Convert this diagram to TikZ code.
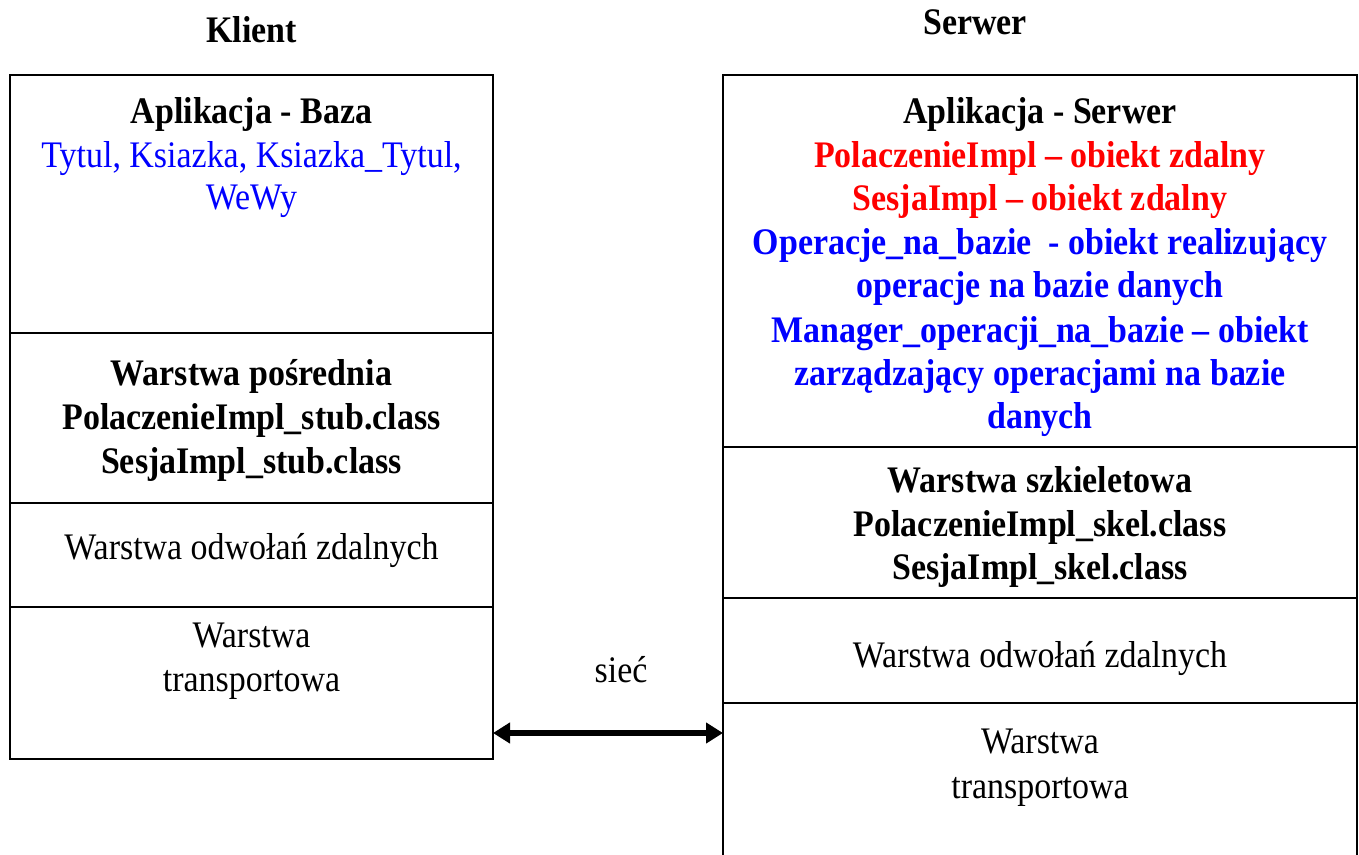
\documentclass[tikz,border=0pt]{standalone}
\usepackage{fontspec}
\setmainfont{Liberation Serif}[FakeStretch=0.905]
\usetikzlibrary{arrows.meta}
\definecolor{rred}{RGB}{255,0,0}
\definecolor{bblue}{RGB}{0,0,255}
\begin{document}
\begin{tikzpicture}[x=1pt,y=-1pt,
  layer/.style={draw, line width=2.2pt, inner sep=0pt, outer sep=0pt, anchor=north west},
  txt/.style={anchor=base, inner sep=0pt, font=\fontsize{37.5}{43}\selectfont},
  btxt/.style={anchor=base, inner sep=0pt, font=\fontsize{37.5}{43}\selectfont\bfseries},
  net/.style={line width=5.5pt, {Triangle[length=17pt,width=20pt]}-{Triangle[length=17pt,width=20pt]}}]
\useasboundingbox (0,0) rectangle (1359,854);
\clip (0,0) rectangle (1359,854);
% headings
\node[btxt] (hk) at (251.5,42) {Klient};
\node[btxt] (hs) at (975,34) {Serwer};
% client stack
\node[layer, minimum width=483pt, minimum height=258pt] (lapp) at (10,75) {};
\node[layer, minimum width=483pt, minimum height=170pt] (lmid) at (10,333) {};
\node[layer, minimum width=483pt, minimum height=104pt] (lrem) at (10,503) {};
\node[layer, minimum width=483pt, minimum height=152pt] (ltr) at (10,607) {};
% server stack
\node[layer, minimum width=634pt, minimum height=372pt] (rapp) at (723,75) {};
\node[layer, minimum width=634pt, minimum height=151pt] (rmid) at (723,447) {};
\node[layer, minimum width=634pt, minimum height=105pt] (rrem) at (723,598) {};
\node[layer, minimum width=634pt, minimum height=170pt] (rtr) at (723,703) {};
% client texts
\node[btxt] (la1) at (251.5,123) {Aplikacja - Baza};
\node[txt, text=bblue] (la2) at (251.5,167) {Tytul, Ksiazka, Ksiazka\_Tytul,};
\node[txt, text=bblue] (la3) at (251.5,209) {WeWy};
\node[btxt] (lm1) at (251.5,385) {Warstwa pośrednia};
\node[btxt] (lm2) at (251.5,429) {PolaczenieImpl\_stub.class};
\node[btxt] (lm3) at (251.5,473) {SesjaImpl\_stub.class};
\node[txt] (lr1) at (251.5,559) {Warstwa odwołań zdalnych};
\node[txt] (lt1) at (251.5,647) {Warstwa};
\node[txt] (lt2) at (251.5,691) {transportowa};
% server texts
\node[btxt] (ra1) at (1040,123) {Aplikacja - Serwer};
\node[btxt, text=rred] (ra2) at (1040,167) {PolaczenieImpl – obiekt zdalny};
\node[btxt, text=rred] (ra3) at (1040,210) {SesjaImpl – obiekt zdalny};
\node[btxt, text=bblue] (ra4) at (1040,254) {Operacje\_na\_bazie\ \ - obiekt realizujący};
\node[btxt, text=bblue] (ra5) at (1040,297) {operacje na bazie danych};
\node[btxt, text=bblue] (ra6) at (1040,342) {Manager\_operacji\_na\_bazie – obiekt};
\node[btxt, text=bblue] (ra7) at (1040,385) {zarządzający operacjami na bazie};
\node[btxt, text=bblue] (ra8) at (1040,428) {danych};
\node[btxt] (rm1) at (1040,492) {Warstwa szkieletowa};
\node[btxt] (rm2) at (1040,536) {PolaczenieImpl\_skel.class};
\node[btxt] (rm3) at (1040,579) {SesjaImpl\_skel.class};
\node[txt] (rr1) at (1040,667) {Warstwa odwołań zdalnych};
\node[txt] (rt1) at (1040,753) {Warstwa};
\node[txt] (rt2) at (1040,798) {transportowa};
% network
\node[txt] (siec) at (621,682) {sieć};
\coordinate (ay) at (0,733);
\draw[net] (ltr.east |- ay) -- (rtr.west |- ay);
\end{tikzpicture}
\end{document}
